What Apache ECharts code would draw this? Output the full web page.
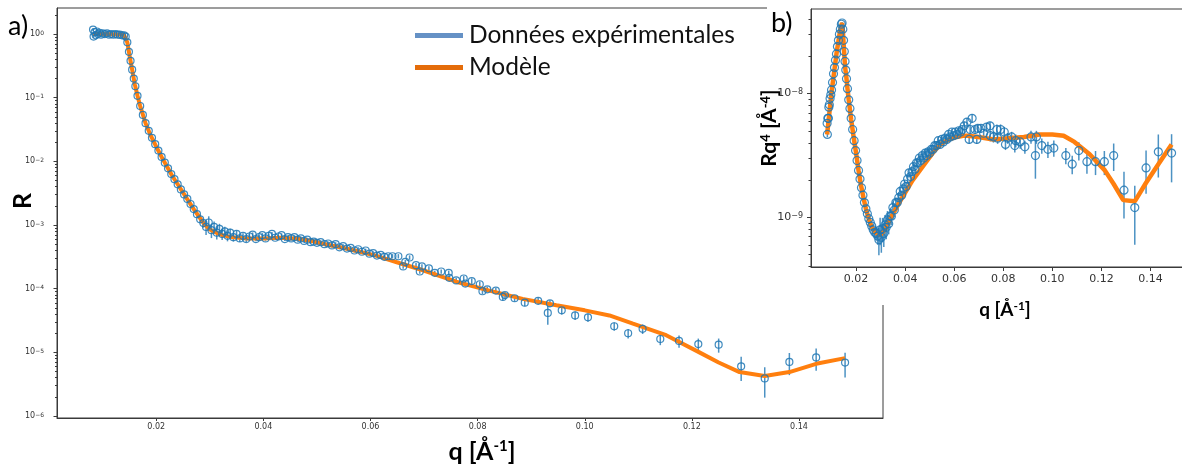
<!DOCTYPE html>
<html>
<head>
<meta charset="utf-8">
<script src="https://cdn.jsdelivr.net/npm/echarts@6/dist/echarts.min.js"></script>
<style>html,body{margin:0;padding:0;background:#fff}#c{width:1182px;height:468px}</style>
</head>
<body>
<div id="c"></div>
<script>
// ---------------- data ----------------
// experimental points: q [1/A], log10(R), log10(R q^4), relative error dR/R
const qExp = [
0.0082,0.0083,0.0085,0.0087,0.0089,0.0091,0.0094,0.0097,0.0100,0.0104,
0.0108,0.0112,0.0116,0.0120,0.0124,0.0128,0.0132,0.0136,0.0140,0.0143,
0.0146,0.0149,0.0152,0.0155,0.0158,0.0161,0.0165,0.0170,0.0175,0.0180,
0.0186,0.0192,0.0198,0.0204,0.0210,0.0216,0.0222,0.0228,0.0234,0.0240,
0.0246,0.0252,0.0258,0.0264,0.0270,0.0276,0.0282,0.0288,0.0293,0.0298,
0.0303,0.0308,0.0313,0.0318,0.0323,0.0328,0.0333,0.0338,0.0344,0.0350,
0.0356,0.0362,0.0368,0.0374,0.0380,0.0386,0.0392,0.0398,0.0404,0.0410,
0.0416,0.0422,0.0428,0.0434,0.0440,0.0446,0.0452,0.0458,0.0464,0.0470,
0.0476,0.0482,0.0488,0.0494,0.0500,0.0507,0.0514,0.0521,0.0528,0.0535,
0.0542,0.0549,0.0556,0.0563,0.0570,0.0577,0.0584,0.0591,0.0598,0.0605,
0.0612,0.0619,0.0626,0.0633,0.0641,0.0652,0.0661,0.0665,0.0673,0.0685,
0.0692,0.0696,0.0709,0.0720,0.0732,0.0746,0.0747,0.0760,0.0774,0.0777,
0.0789,0.0804,0.0809,0.0818,0.0834,0.0847,0.0851,0.0869,0.0888,0.0913,
0.0931,0.0935,0.0957,0.0982,0.1006,0.1055,0.1081,0.1108,0.1141,0.1176,
0.1212,0.1250,0.1292,0.1336,0.1382,0.1432,0.1486];
const logR = [
0.07,-0.04,0.03,-0.02,0.04,0.00,0.02,-0.01,0.01,0.00,
0.01,-0.01,0.00,-0.01,0.00,-0.01,-0.01,-0.02,-0.02,-0.04,
-0.13,-0.28,-0.42,-0.56,-0.70,-0.82,-0.97,-1.13,-1.27,-1.40,
-1.52,-1.63,-1.73,-1.83,-1.93,-2.02,-2.11,-2.20,-2.28,-2.36,
-2.44,-2.52,-2.59,-2.67,-2.75,-2.83,-2.91,-2.97,-3.03,-2.96,
-3.08,-3.03,-3.12,-3.06,-3.14,-3.10,-3.17,-3.12,-3.19,-3.14,
-3.21,-3.17,-3.22,-3.18,-3.15,-3.22,-3.19,-3.16,-3.21,-3.17,
-3.14,-3.20,-3.18,-3.16,-3.22,-3.19,-3.21,-3.19,-3.23,-3.21,
-3.25,-3.23,-3.27,-3.26,-3.28,-3.27,-3.30,-3.29,-3.32,-3.30,
-3.35,-3.33,-3.37,-3.36,-3.40,-3.38,-3.42,-3.40,-3.45,-3.44,
-3.48,-3.47,-3.50,-3.49,-3.49,-3.49,-3.65,-3.58,-3.51,-3.63,
-3.73,-3.65,-3.68,-3.75,-3.73,-3.75,-3.83,-3.87,-3.84,-3.92,
-3.88,-3.93,-4.04,-4.01,-4.03,-4.13,-4.10,-4.15,-4.22,-4.19,
-4.38,-4.23,-4.34,-4.42,-4.45,-4.59,-4.70,-4.63,-4.79,-4.82,
-4.87,-4.88,-5.22,-5.41,-5.15,-5.08,-5.16];
const logRq4 = [
-8.24,-8.33,-8.20,-8.20,-8.11,-8.09,-8.04,-8.01,-7.97,-7.91,
-7.84,-7.79,-7.73,-7.68,-7.62,-7.57,-7.52,-7.48,-7.44,-7.43,
-7.48,-7.57,-7.66,-7.74,-7.81,-7.88,-7.96,-8.05,-8.12,-8.20,
-8.29,-8.38,-8.46,-8.54,-8.62,-8.69,-8.76,-8.82,-8.88,-8.93,
-8.97,-9.01,-9.04,-9.07,-9.10,-9.12,-9.13,-9.15,-9.18,-9.10,
-9.16,-9.09,-9.13,-9.06,-9.08,-9.02,-9.05,-8.99,-8.99,-8.92,
-8.94,-8.88,-8.88,-8.84,-8.79,-8.82,-8.77,-8.73,-8.75,-8.69,
-8.64,-8.67,-8.63,-8.59,-8.61,-8.56,-8.56,-8.52,-8.54,-8.50,
-8.52,-8.48,-8.50,-8.47,-8.48,-8.45,-8.45,-8.42,-8.42,-8.38,
-8.41,-8.37,-8.39,-8.36,-8.37,-8.33,-8.35,-8.31,-8.34,-8.31,
-8.33,-8.30,-8.31,-8.29,-8.26,-8.23,-8.37,-8.29,-8.20,-8.29,
-8.37,-8.28,-8.28,-8.32,-8.27,-8.26,-8.34,-8.35,-8.29,-8.36,
-8.29,-8.31,-8.41,-8.36,-8.35,-8.42,-8.38,-8.39,-8.43,-8.35,
-8.50,-8.35,-8.42,-8.45,-8.44,-8.50,-8.57,-8.46,-8.55,-8.55,
-8.55,-8.50,-8.78,-8.92,-8.60,-8.47,-8.48];
const relErr = [
0.05,0.05,0.04,0.04,0.04,0.03,0.03,0.03,0.03,0.02,
0.02,0.02,0.02,0.02,0.02,0.02,0.02,0.02,0.02,0.02,
0.02,0.02,0.02,0.02,0.02,0.02,0.02,0.02,0.02,0.02,
0.02,0.03,0.03,0.03,0.03,0.03,0.03,0.04,0.04,0.04,
0.05,0.05,0.06,0.06,0.08,0.10,0.12,0.15,0.25,0.25,
0.25,0.22,0.22,0.20,0.20,0.18,0.18,0.15,0.15,0.12,
0.12,0.10,0.10,0.10,0.08,0.08,0.08,0.08,0.08,0.08,
0.07,0.07,0.07,0.07,0.07,0.07,0.07,0.07,0.07,0.07,
0.07,0.07,0.07,0.07,0.07,0.07,0.07,0.07,0.07,0.07,
0.07,0.07,0.07,0.07,0.07,0.07,0.07,0.07,0.07,0.07,
0.07,0.07,0.07,0.07,0.08,0.08,0.08,0.08,0.08,0.08,
0.08,0.08,0.08,0.08,0.08,0.08,0.10,0.10,0.10,0.10,
0.10,0.10,0.10,0.10,0.10,0.12,0.12,0.12,0.12,0.12,
0.35,0.12,0.14,0.15,0.15,0.15,0.17,0.17,0.20,0.22,
0.22,0.25,0.41,0.50,0.38,0.38,0.42];
// model curve
const qModel = [
0.0082,0.0100,0.0120,0.0135,0.0140,0.0143,0.0146,0.0150,0.0155,0.0160,
0.0165,0.0170,0.0180,0.0190,0.0200,0.0210,0.0220,0.0230,0.0240,0.0250,
0.0260,0.0270,0.0280,0.0290,0.0300,0.0320,0.0340,0.0370,0.0400,0.0430,
0.0460,0.0490,0.0520,0.0550,0.0580,0.0610,0.0636,0.0655,0.0698,0.0760,
0.0822,0.0884,0.0947,0.1000,0.1046,0.1090,0.1152,0.1214,0.1250,0.1289,
0.1336,0.1382,0.1432,0.1486];
const logRModel = [
0.00,0.00,-0.005,-0.01,-0.02,-0.04,-0.13,-0.33,-0.56,-0.79,
-0.97,-1.13,-1.40,-1.60,-1.77,-1.93,-2.08,-2.23,-2.36,-2.49,
-2.62,-2.75,-2.87,-2.99,-3.07,-3.15,-3.19,-3.21,-3.21,-3.20,
-3.21,-3.25,-3.31,-3.36,-3.42,-3.48,-3.55,-3.60,-3.71,-3.89,
-4.03,-4.16,-4.26,-4.34,-4.42,-4.55,-4.73,-5.00,-5.16,-5.31,
-5.37,-5.31,-5.18,-5.09];
const logRq4Model = [
-8.33,-7.99,-7.68,-7.49,-7.45,-7.43,-7.49,-7.62,-7.78,-7.86,
-7.96,-8.05,-8.21,-8.35,-8.48,-8.62,-8.74,-8.84,-8.93,-9.00,
-9.06,-9.10,-9.12,-9.14,-9.14,-9.09,-9.01,-8.90,-8.80,-8.70,
-8.62,-8.54,-8.46,-8.40,-8.37,-8.35,-8.34,-8.34,-8.35,-8.37,
-8.36,-8.35,-8.33,-8.33,-8.34,-8.39,-8.49,-8.62,-8.73,-8.86,
-8.87,-8.72,-8.57,-8.41];
// tick labels
const xTicks = [0.02,0.04,0.06,0.08,0.10,0.12,0.14];
const yDecadesMain = [-6,-5,-4,-3,-2,-1,0];
const yDecadesInset = [-9,-8];
const minorMultipliers = [2,3,4,5,6,7,8,9];
const legendNames = ['Données expérimentales','Modèle'];

// ---------------- chart ----------------
const MAIN_Y = [-6.031, 0.409];
const INSET_Y = [-9.40, -7.317];
function minors(lo, hi){
  const out=[];
  for(let n=Math.floor(lo)-1;n<=Math.ceil(hi);n++){
    for(const k of minorMultipliers){const v=n+Math.log10(k); if(v>lo&&v<hi) out.push(v);}
  }
  return out;
}
const supLabel = v => '{b|10}{s|' + (v<0?'\u2212':'') + Math.abs(Math.round(v)) + '}';
const errPoints = (ys) => qExp.map((q,i)=>[q, ys[i], ys[i]+Math.log10(Math.max(1-relErr[i],0.05)), ys[i]+Math.log10(1+relErr[i])]);
const pts = (xs, ys) => xs.map((q,i)=>[q, ys[i]]);
function errRender(params, api){
  const x = api.value(0);
  const a = api.coord([x, api.value(2)]);
  const b = api.coord([x, api.value(3)]);
  return {type:'line', shape:{x1:a[0],y1:a[1],x2:b[0],y2:b[1]}, style:{stroke:'#1f77b4', lineWidth:1.5, opacity:0.8}};
}
const AX = '#3a3a3a';
const tickFont = 'DejaVu Sans';
const chart = echarts.init(document.getElementById('c'));
chart.setOption({
  animation:false,
  backgroundColor:'#fff',
  grid:[
    {left:57, top:8, width:826, height:410, show:true, borderColor:AX, borderWidth:1, backgroundColor:'transparent', z:0, outerBoundsMode:'none', containLabel:false},
    {left:811, top:9, width:378, height:258, show:true, borderColor:AX, borderWidth:1, backgroundColor:'transparent', z:2, outerBoundsMode:'none', containLabel:false}
  ],
  legend:{
    left:410, top:18, orient:'vertical', itemWidth:48, itemHeight:5, itemGap:7, selectedMode:false, icon:'rect',
    textStyle:{fontFamily:'Lato', fontSize:24.5, color:'#111', padding:[0,0,0,1]},
    data:[{name:legendNames[0], itemStyle:{color:'#4a7ebb', borderWidth:0}},{name:legendNames[1], itemStyle:{color:'#e46c0a', borderWidth:0}}]
  },
  xAxis:[
    {gridIndex:0, type:'value', min:0.00147, max:0.15568,
     axisLine:{onZero:false, lineStyle:{color:AX}}, splitLine:{show:false},
     axisTick:{customValues:xTicks, length:3, lineStyle:{color:AX}},
     axisLabel:{customValues:xTicks, fontSize:8, fontFamily:tickFont, color:'#333', margin:5, formatter:v=>v.toFixed(2)},
     name:'{t|q [Å}{s|-1}{t|]}', nameLocation:'middle', nameGap:21,
     nameTextStyle:{padding:[0,0,0,24], rich:{t:{fontFamily:'Lato', fontWeight:'bold', fontSize:25, color:'#000'}, s:{fontFamily:'Lato', fontWeight:'bold', fontSize:15, color:'#000', verticalAlign:'top'}}}},
    {gridIndex:1, type:'value', min:0.00163, max:0.1557, z:3,
     axisLine:{onZero:false, lineStyle:{color:AX}}, splitLine:{show:false},
     axisTick:{customValues:xTicks, length:4, lineStyle:{color:AX}},
     axisLabel:{customValues:xTicks, fontSize:11, fontFamily:tickFont, color:'#333', margin:7, formatter:v=>v.toFixed(2)},
     name:'{t|q [Å}{s|-1}{t|]}', nameLocation:'middle', nameGap:33,
     nameTextStyle:{padding:[0,0,0,10], rich:{t:{fontFamily:'Lato', fontWeight:'bold', fontSize:19, color:'#000'}, s:{fontFamily:'Lato', fontWeight:'bold', fontSize:12, color:'#000', verticalAlign:'top'}}}}
  ],
  yAxis:[
    {gridIndex:0, type:'value', position:'left', min:MAIN_Y[0], max:MAIN_Y[1],
     axisLine:{show:true, onZero:false, lineStyle:{color:AX}}, splitLine:{show:false},
     axisTick:{show:true, customValues:yDecadesMain, length:3.5, lineStyle:{color:AX}},
     axisLabel:{customValues:yDecadesMain, margin:13, formatter:supLabel,
       rich:{b:{fontSize:8, fontFamily:tickFont, color:'#333'}, s:{fontSize:6, fontFamily:tickFont, color:'#333', verticalAlign:'top'}}},
     name:'R', nameLocation:'middle', nameGap:22, nameRotate:90, nameMoveOverlap:false,
     nameTextStyle:{fontFamily:'Lato', fontWeight:'bold', fontSize:25, color:'#000', padding:[0,0,0,24]}},
    {gridIndex:0, type:'value', position:'left', offset:0, min:MAIN_Y[0], max:MAIN_Y[1],
     axisLine:{show:false, onZero:false}, splitLine:{show:false}, axisLabel:{show:false},
     axisTick:{show:true, customValues:minors(MAIN_Y[0],MAIN_Y[1]), length:2, lineStyle:{color:AX}}},
    {gridIndex:1, type:'value', position:'left', min:INSET_Y[0], max:INSET_Y[1], z:3,
     axisLine:{show:true, onZero:false, lineStyle:{color:AX}}, splitLine:{show:false},
     axisTick:{show:true, customValues:yDecadesInset, length:4, lineStyle:{color:AX}},
     axisLabel:{customValues:yDecadesInset, margin:8, formatter:supLabel,
       rich:{b:{fontSize:11, fontFamily:tickFont, color:'#333'}, s:{fontSize:8, fontFamily:tickFont, color:'#333', verticalAlign:'top'}}},
     name:'{t|Rq}{s|4}{t| [Å}{s|-4}{t|]}', nameLocation:'middle', nameGap:31, nameRotate:90, nameMoveOverlap:false,
     nameTextStyle:{padding:[0,0,0,20], rich:{t:{fontFamily:'Lato', fontWeight:'bold', fontSize:21, color:'#000'}, s:{fontFamily:'Lato', fontWeight:'bold', fontSize:13, color:'#000', verticalAlign:'top'}}}},
    {gridIndex:1, type:'value', position:'left', offset:0, min:INSET_Y[0], max:INSET_Y[1], z:3,
     axisLine:{show:false, onZero:false}, splitLine:{show:false}, axisLabel:{show:false},
     axisTick:{show:true, customValues:minors(INSET_Y[0],INSET_Y[1]), length:2.5, lineStyle:{color:AX}}}
  ],
  graphic:[
    {type:'rect', shape:{x:767, y:0, width:420, height:305}, style:{fill:'#fff'}, z:1},
    {type:'text', left:8, top:13, z:10, style:{text:'a)', fontFamily:'Lato', fontSize:27, fill:'#000'}},
    {type:'text', left:771, top:10, z:10, style:{text:'b)', fontFamily:'Lato', fontSize:27, fill:'#000'}}
  ],
  series:[
    {name:'err-main', type:'custom', xAxisIndex:0, yAxisIndex:0, renderItem:errRender, data:errPoints(logR), encode:{x:0, y:[1,2,3]}, z:2, silent:true},
    {name:legendNames[1], type:'line', xAxisIndex:0, yAxisIndex:0, data:pts(qModel, logRModel), showSymbol:false, symbol:'none',
     lineStyle:{color:'#ff7f0e', width:4}, itemStyle:{color:'#ff7f0e'}, z:3},
    {name:legendNames[0], type:'scatter', xAxisIndex:0, yAxisIndex:0, data:pts(qExp, logR), symbol:'circle', symbolSize:7,
     itemStyle:{color:'rgba(0,0,0,0)', borderColor:'#1f77b4', borderWidth:1.2, opacity:0.85}, z:4},
    {name:'err-inset', type:'custom', xAxisIndex:1, yAxisIndex:2, renderItem:errRender, data:errPoints(logRq4), encode:{x:0, y:[1,2,3]}, z:5, silent:true},
    {name:'model-inset', type:'line', xAxisIndex:1, yAxisIndex:2, data:pts(qModel, logRq4Model), showSymbol:false, symbol:'none',
     lineStyle:{color:'#ff7f0e', width:4.5}, z:6},
    {name:'data-inset', type:'scatter', xAxisIndex:1, yAxisIndex:2, data:pts(qExp, logRq4), symbol:'circle', symbolSize:8,
     itemStyle:{color:'rgba(0,0,0,0)', borderColor:'#1f77b4', borderWidth:1.2, opacity:0.85}, z:7}
  ]
});
</script>
</body>
</html>
